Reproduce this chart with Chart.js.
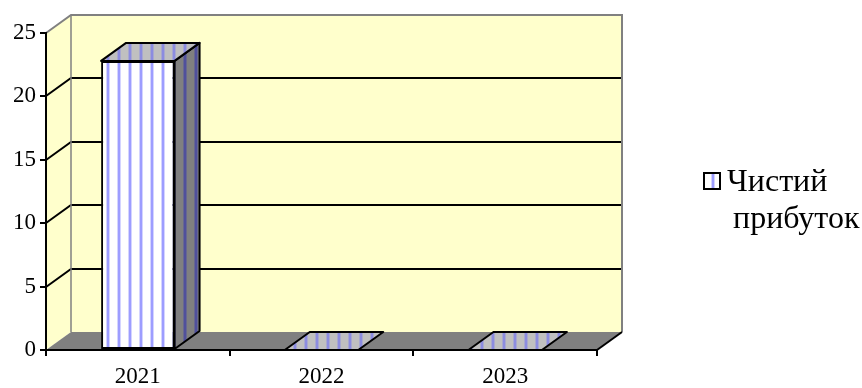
<!DOCTYPE html>
<html>
<head>
<meta charset="utf-8">
<script src="https://cdn.jsdelivr.net/npm/chart.js@4.4.0/dist/chart.umd.min.js"></script>
<style>
  html, body { margin: 0; padding: 0; background: #fff; }
</style>
</head>
<body>
<canvas id="myChart" width="862" height="388"></canvas>
<script>
// data
const years = ['2021', '2022', '2023'];
const netProfit = [22.8, 0, 0];
const seriesName = 'Чистий прибуток';
const legendLines = ['Чистий', 'прибуток'];
const yMin = 0;
const yMax = 25;
const yStep = 5;

// depth of the pseudo-3d box
const DX = 25;
const DY = -18;

const WALL = '#ffffcc';
const FLOOR = '#808080';
const EDGE = '#808080';
const FONT = "'Liberation Serif', 'Times New Roman', serif";

// vertical stripes, like the old office fill pattern
function stripes(bg, fg, soft) {
  const c = document.createElement('canvas');
  c.width = 11;
  c.height = 4;
  const g = c.getContext('2d');
  g.fillStyle = bg;
  g.fillRect(0, 0, 11, 4);
  g.fillStyle = soft;
  g.fillRect(7, 0, 4, 4);
  g.fillStyle = fg;
  g.fillRect(8, 0, 2, 4);
  return g.createPattern(c, 'repeat');
}

const frontFill = stripes('#ffffff', '#9d9dff', '#d4d4ff');
const topFill = stripes('#c0c0c0', '#8c8ce0', '#a8a8d0');
const sideFill = stripes('#808080', '#50509c', '#686890');

function poly(ctx, pts) {
  ctx.beginPath();
  ctx.moveTo(pts[0][0], pts[0][1]);
  for (let i = 1; i < pts.length; i++) ctx.lineTo(pts[i][0], pts[i][1]);
  ctx.closePath();
}

const box3d = {
  id: 'box3d',
  beforeDraw(chart) {
    const ctx = chart.ctx;
    const {left, right, top, bottom} = chart.chartArea;
    const yScale = chart.scales.y;
    ctx.save();
    // back wall + left wall
    ctx.fillStyle = WALL;
    ctx.fillRect(left + DX, top + DY, right - left, bottom - top);
    poly(ctx, [[left, top], [left + DX, top + DY], [left + DX, bottom + DY], [left, bottom]]);
    ctx.fill();
    // floor
    ctx.fillStyle = FLOOR;
    poly(ctx, [[left, bottom], [left + DX, bottom + DY], [right + DX, bottom + DY], [right, bottom]]);
    ctx.fill();

    // grid lines running over side wall and back wall
    ctx.strokeStyle = '#000';
    ctx.lineWidth = 2;
    yScale.ticks.forEach(t => {
      if (t.value <= yMin || t.value >= yMax) return;
      const y = Math.round(yScale.getPixelForValue(t.value));
      ctx.beginPath();
      ctx.moveTo(left, y);
      ctx.lineTo(left + DX, y + DY);
      ctx.lineTo(right + DX, y + DY);
      ctx.stroke();
    });

    // grey outline of the walls
    ctx.strokeStyle = EDGE;
    ctx.lineWidth = 2;
    ctx.beginPath();
    ctx.moveTo(left, top);
    ctx.lineTo(left + DX, top + DY);
    ctx.lineTo(right + DX, top + DY);
    ctx.lineTo(right + DX, bottom + DY);
    ctx.stroke();
    ctx.lineWidth = 1.5;
    ctx.beginPath();
    ctx.moveTo(left + DX, top + DY);
    ctx.lineTo(left + DX, bottom + DY);
    ctx.stroke();

    // right edge of the floor
    ctx.strokeStyle = '#000';
    ctx.lineWidth = 2;
    ctx.beginPath();
    ctx.moveTo(right, bottom);
    ctx.lineTo(right + DX, bottom + DY);
    ctx.stroke();
    ctx.restore();
  },
  afterDatasetsDraw(chart) {
    const ctx = chart.ctx;
    const meta = chart.getDatasetMeta(0);
    ctx.save();
    ctx.strokeStyle = '#000';
    ctx.lineWidth = 2;
    ctx.lineJoin = 'round';
    meta.data.forEach(bar => {
      const p = bar.getProps(['x', 'y', 'base', 'width'], true);
      const l = p.x - p.width / 2;
      const r = p.x + p.width / 2;
      const t = Math.min(p.y, p.base);
      const b = Math.max(p.y, p.base);
      if (b - t > 0.5) {
        poly(ctx, [[r, b], [r, t], [r + DX, t + DY], [r + DX, b + DY]]);
        ctx.fillStyle = sideFill;
        ctx.fill();
        ctx.stroke();
      }
      poly(ctx, [[l, t], [l + DX, t + DY], [r + DX, t + DY], [r, t]]);
      ctx.fillStyle = topFill;
      ctx.fill();
      ctx.stroke();
    });
    ctx.restore();
  },
  afterDraw(chart) {
    // legend: swatch plus two-line label
    const ctx = chart.ctx;
    ctx.save();
    ctx.fillStyle = frontFill;
    ctx.fillRect(704, 173, 16, 16);
    ctx.strokeStyle = '#000';
    ctx.lineWidth = 2;
    ctx.strokeRect(704, 173, 16, 16);
    ctx.fillStyle = '#000';
    ctx.font = '32px ' + FONT;
    ctx.textBaseline = 'alphabetic';
    ctx.fillText(legendLines[0], 727, 191);
    ctx.fillText(legendLines[1], 733, 228);
    ctx.restore();
  }
};

const data = {
  labels: years,
  datasets: [{
    label: seriesName,
    data: netProfit,
    backgroundColor: frontFill,
    borderColor: '#000',
    borderWidth: 2,
    borderSkipped: false,
    barPercentage: 0.4,
    categoryPercentage: 1.0
  }]
};

const config = {
  type: 'bar',
  data: data,
  options: {
    responsive: false,
    animation: false,
    layout: {
      padding: {top: 33, right: 265, left: 0, bottom: 0}
    },
    plugins: {
      legend: {display: false},
      tooltip: {enabled: false}
    },
    scales: {
      x: {
        afterFit(scale) { scale.height = 38; },
        grid: {
          offset: true,
          drawOnChartArea: false,
          color: '#000',
          lineWidth: 2,
          tickLength: 6
        },
        border: {display: true, color: '#000', width: 2},
        ticks: {
          color: '#000',
          padding: 7,
          font: {family: FONT, size: 23},
          maxRotation: 0
        }
      },
      y: {
        min: yMin,
        max: yMax,
        afterFit(scale) { scale.width = 46; },
        grid: {
          drawOnChartArea: false,
          color: '#000',
          lineWidth: 2,
          tickLength: 6
        },
        border: {display: true, color: '#000', width: 2},
        ticks: {
          stepSize: yStep,
          color: '#000',
          padding: 4,
          font: {family: FONT, size: 23}
        }
      }
    }
  },
  plugins: [box3d]
};

const ctx = document.getElementById('myChart').getContext('2d');
const chart = new Chart(ctx, config);
</script>
</body>
</html>
